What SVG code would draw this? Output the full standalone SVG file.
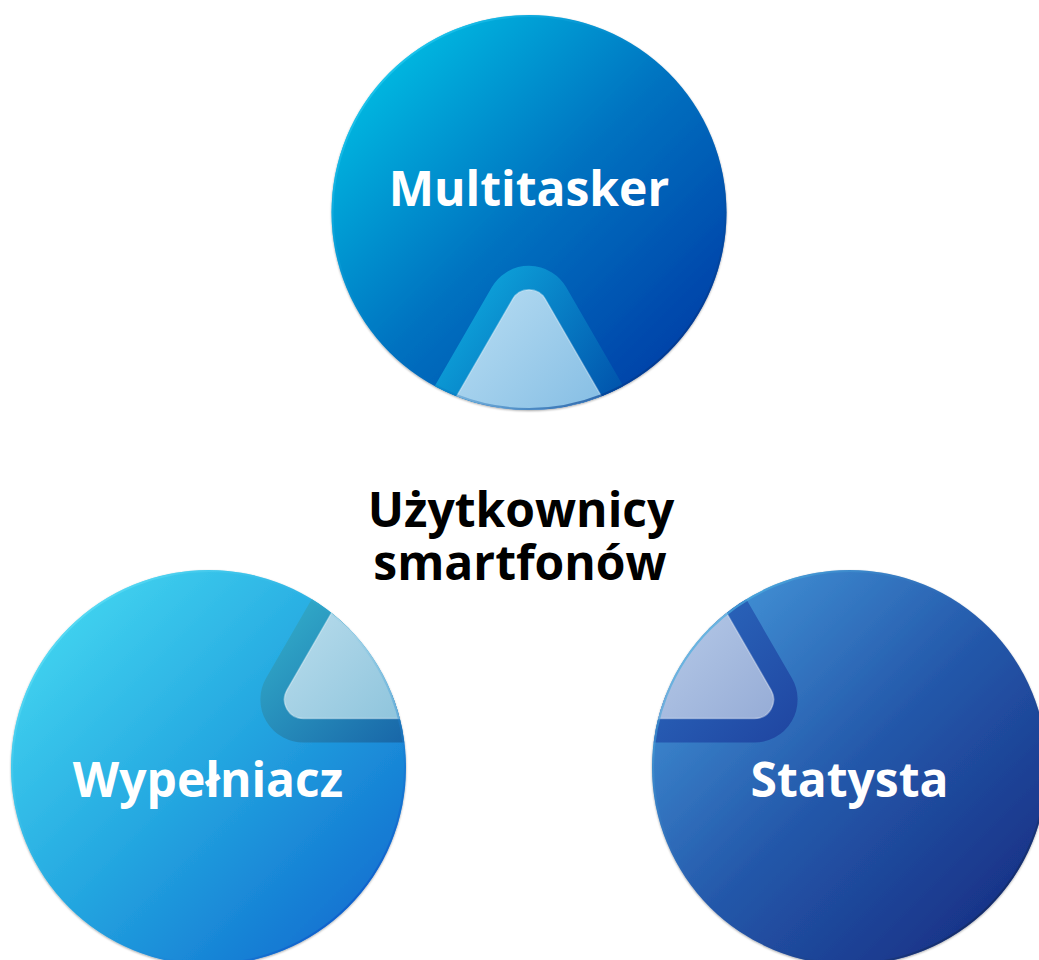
<svg xmlns="http://www.w3.org/2000/svg" width="1039" height="960" viewBox="0 0 1039 960">
  <defs>
    <style>
      .lbl { font-family: "Open Sans", "Noto Sans", "Liberation Sans", sans-serif; font-weight: 700; font-size: 48px; text-anchor: middle; }
      .white { fill: #ffffff; }
      .black { fill: #000000; }
      .band { fill: none; stroke-width: 48; stroke-linejoin: round; }
      .inner { stroke: #ffffff; stroke-opacity: 0.35; stroke-width: 1.5; }
    </style>
    <path id="tri" d="M 512.55,299.3 A 19 19 0 0 1 545.45,299.3 L 771.05,690.05 A 19 19 0 0 1 754.6,718.55 L 303.4,718.55 A 19 19 0 0 1 286.95,690.05 Z"/>
    <filter id="sh" x="-10%" y="-10%" width="120%" height="120%">
      <feDropShadow dx="0" dy="1" stdDeviation="1.2" flood-color="#000" flood-opacity="0.35"/>
    </filter>
    <clipPath id="clipT"><circle cx="529" cy="212.5" r="197.5"/></clipPath>
    <clipPath id="clipL"><circle cx="208.5" cy="767.5" r="197.5"/></clipPath>
    <clipPath id="clipR"><circle cx="849.5" cy="767.5" r="197.5"/></clipPath>

    <linearGradient id="gT" x1="0" y1="0" x2="1" y2="1">
      <stop offset="0" stop-color="#00d0ec"/>
      <stop offset="0.5" stop-color="#0272c0"/>
      <stop offset="1" stop-color="#0030a0"/>
    </linearGradient>
    <linearGradient id="eT" x1="0" y1="0" x2="1" y2="1">
      <stop offset="0" stop-color="#30e8ff"/>
      <stop offset="0.5" stop-color="#0a80cc" stop-opacity="0"/>
      <stop offset="1" stop-color="#001a70"/>
    </linearGradient>
    <linearGradient id="bT" gradientUnits="userSpaceOnUse" x1="440" y1="265" x2="625" y2="400">
      <stop offset="0" stop-color="#10b4e4"/>
      <stop offset="1" stop-color="#0050aa"/>
    </linearGradient>
    <linearGradient id="iT" gradientUnits="userSpaceOnUse" x1="470" y1="290" x2="600" y2="410">
      <stop offset="0" stop-color="#b6dcf2"/>
      <stop offset="1" stop-color="#86bee4"/>
    </linearGradient>

    <linearGradient id="gL" x1="0" y1="0" x2="1" y2="1">
      <stop offset="0" stop-color="#4ae0f4"/>
      <stop offset="0.5" stop-color="#24a6e0"/>
      <stop offset="1" stop-color="#0c62cc"/>
    </linearGradient>
    <linearGradient id="eL" x1="0" y1="0" x2="1" y2="1">
      <stop offset="0" stop-color="#70f0ff"/>
      <stop offset="0.5" stop-color="#30b0e0" stop-opacity="0"/>
      <stop offset="1" stop-color="#0036c0"/>
    </linearGradient>
    <linearGradient id="bL" gradientUnits="userSpaceOnUse" x1="265" y1="600" x2="405" y2="742">
      <stop offset="0" stop-color="#34b2cc"/>
      <stop offset="1" stop-color="#1866a8"/>
    </linearGradient>
    <linearGradient id="iL" gradientUnits="userSpaceOnUse" x1="290" y1="610" x2="405" y2="720">
      <stop offset="0" stop-color="#b8dcec"/>
      <stop offset="1" stop-color="#8ec4dc"/>
    </linearGradient>

    <linearGradient id="gR" x1="0" y1="0" x2="1" y2="1">
      <stop offset="0" stop-color="#4aa2e2"/>
      <stop offset="0.5" stop-color="#2458aa"/>
      <stop offset="1" stop-color="#14267c"/>
    </linearGradient>
    <linearGradient id="eR" x1="0" y1="0" x2="1" y2="1">
      <stop offset="0" stop-color="#5ad0f4"/>
      <stop offset="0.5" stop-color="#2a60b0" stop-opacity="0"/>
      <stop offset="1" stop-color="#0a1440"/>
    </linearGradient>
    <linearGradient id="bR" gradientUnits="userSpaceOnUse" x1="660" y1="600" x2="800" y2="742">
      <stop offset="0" stop-color="#2c6cc0"/>
      <stop offset="1" stop-color="#1f44a0"/>
    </linearGradient>
    <linearGradient id="iR" gradientUnits="userSpaceOnUse" x1="660" y1="610" x2="775" y2="720">
      <stop offset="0" stop-color="#b6cae8"/>
      <stop offset="1" stop-color="#96acd6"/>
    </linearGradient>
  </defs>

  <rect width="1039" height="960" fill="#ffffff"/>

  <g id="node-multitasker">
    <circle cx="529" cy="212.5" r="197.5" fill="url(#gT)" filter="url(#sh)"/>
    <g clip-path="url(#clipT)">
      <use href="#tri" class="band" stroke="url(#bT)"/>
      <use href="#tri" class="inner" fill="url(#iT)"/>
    </g>
    <circle cx="529" cy="212.5" r="196.5" fill="none" stroke="url(#eT)" stroke-width="2"/>
    <text class="lbl white" x="529" y="206">Multitasker</text>
  </g>

  <g id="node-wypelniacz">
    <circle cx="208.5" cy="767.5" r="197.5" fill="url(#gL)" filter="url(#sh)"/>
    <g clip-path="url(#clipL)">
      <use href="#tri" class="band" stroke="url(#bL)"/>
      <use href="#tri" class="inner" fill="url(#iL)"/>
    </g>
    <circle cx="208.5" cy="767.5" r="196.5" fill="none" stroke="url(#eL)" stroke-width="2"/>
    <text class="lbl white" x="208" y="797">Wypełniacz</text>
  </g>

  <g id="node-statysta">
    <circle cx="849.5" cy="767.5" r="197.5" fill="url(#gR)" filter="url(#sh)"/>
    <g clip-path="url(#clipR)">
      <use href="#tri" class="band" stroke="url(#bR)"/>
      <use href="#tri" class="inner" fill="url(#iR)"/>
    </g>
    <circle cx="849.5" cy="767.5" r="196.5" fill="none" stroke="url(#eR)" stroke-width="2"/>
    <text class="lbl white" x="849.5" y="797">Statysta</text>
  </g>

  <g id="center-label">
    <text class="lbl black" x="521" y="527">Użytkownicy</text>
    <text class="lbl black" x="520" y="580">smartfonów</text>
  </g>

  <g id="connectors"/>
</svg>
